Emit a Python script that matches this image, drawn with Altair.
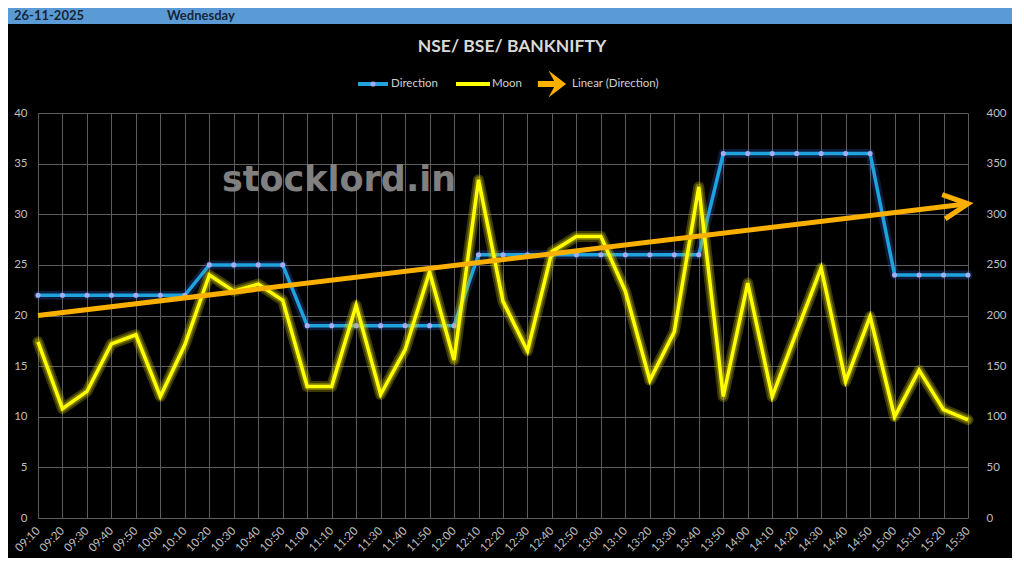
import altair as alt
import pandas as pd

TIMES = ["09:10", "09:20", "09:30", "09:40", "09:50", "10:00", "10:10", "10:20", "10:30", "10:40",
         "10:50", "11:00", "11:10", "11:20", "11:30", "11:40", "11:50", "12:00", "12:10", "12:20",
         "12:30", "12:40", "12:50", "13:00", "13:10", "13:20", "13:30", "13:40", "13:50", "14:00",
         "14:10", "14:20", "14:30", "14:40", "14:50", "15:00", "15:10", "15:20", "15:30"]
DIRECTION = [22, 22, 22, 22, 22, 22, 22, 25, 25, 25,
             25, 19, 19, 19, 19, 19, 19, 19, 26, 26,
             26, 26, 26, 26, 26, 26, 26, 26, 36, 36,
             36, 36, 36, 36, 36, 24, 24, 24, 24]
MOON = [174, 108, 125, 172, 181, 120, 171, 240, 224, 231,
        215, 130, 130, 210, 122, 166, 243, 156, 334, 214,
        165, 263, 278, 278, 224, 136, 184, 327, 120, 232,
        120, 184, 247, 135, 199, 100, 146, 107, 97]
LEFT_TICKS = [0, 5, 10, 15, 20, 25, 30, 35, 40]
RIGHT_TICKS = [0, 50, 100, 150, 200, 250, 300, 350, 400]

df = pd.DataFrame({"idx": list(range(len(TIMES))), "time": TIMES, "dir": DIRECTION, "moon": MOON})
label_expr = "[" + ",".join("'%s'" % t for t in TIMES) + "][datum.value]"

FONT = "Lato"
GRID = "#5c5c5c"
LABEL = "#bfbfbf"

x_enc = alt.X("idx:Q",
              scale=alt.Scale(domain=[0, len(TIMES) - 1], nice=False, zero=False),
              axis=alt.Axis(values=list(range(len(TIMES))), labelExpr=label_expr, labelAngle=315,
                            labelAlign="right", labelBaseline="middle", labelPadding=11,
                            labelColor=LABEL, labelFont=FONT, labelFontSize=11.5,
                            grid=True, gridColor=GRID, gridWidth=1, domain=False, ticks=False,
                            title=None, labelOverlap=False))

y_dir_axis = alt.Y("dir:Q", scale=alt.Scale(domain=[0, 40], nice=False),
                   axis=alt.Axis(values=LEFT_TICKS, grid=True, gridColor=GRID, gridWidth=1,
                                 domain=False, ticks=False, labelColor=LABEL, labelFont=FONT,
                                 labelFontSize=11.5, labelPadding=11, title=None))
y_dir = alt.Y("dir:Q", scale=alt.Scale(domain=[0, 40], nice=False), axis=None)
y_moon_axis = alt.Y("moon:Q", scale=alt.Scale(domain=[0, 400], nice=False),
                    axis=alt.Axis(orient="right", values=RIGHT_TICKS, grid=False, domain=False,
                                  ticks=False, labelColor=LABEL, labelFont=FONT, labelFontSize=11.5,
                                  labelPadding=18, labelAlign="left", title=None))
y_moon = alt.Y("moon:Q", scale=alt.Scale(domain=[0, 400], nice=False), axis=None)

base = alt.Chart(df)

BLUE = "#1fa3df"
YELLOW = "#ffff00"
ORANGE = "#fbb000"

blue_glow = base.mark_line(color="#3c7cff", strokeWidth=9, opacity=0.22, strokeJoin="round",
                           strokeCap="round").encode(x=x_enc, y=y_dir_axis)
blue = base.mark_line(color=BLUE, strokeWidth=3.5).encode(x=x_enc, y=y_dir)
blue_pts = base.mark_point(filled=True, color="#a5acf2", size=26, opacity=1).encode(x=x_enc, y=y_dir)

yellow_glow = base.mark_line(color="#c8c000", strokeWidth=11, opacity=0.3, strokeJoin="round",
                             strokeCap="round").encode(x=x_enc, y=y_moon_axis)
yellow_glow2 = base.mark_line(color="#e6e000", strokeWidth=7, opacity=0.35, strokeJoin="round",
                              strokeCap="round").encode(x=x_enc, y=y_moon)
yellow = base.mark_line(color=YELLOW, strokeWidth=3.5).encode(x=x_enc, y=y_moon)

trend = base.transform_regression("idx", "dir", method="linear").mark_line(
    color=ORANGE, strokeWidth=5).encode(x=x_enc, y=y_dir)
arrow = base.transform_regression("idx", "dir", method="linear").transform_filter(
    "datum.idx >= 37.5").mark_point(
    shape="M-1,-0.5L0,0L-1,0.5", filled=False, stroke=ORANGE, strokeWidth=5, size=2400,
    angle=353, opacity=1, strokeJoin="miter").encode(x=x_enc, y=y_dir)

deco = alt.Data(values=[{"k": 0}])

header = alt.Chart(deco).mark_rect(color="#5b9bd5").encode(
    x=alt.value(-30), x2=alt.value(974), y=alt.value(-105), y2=alt.value(-89))
hdr_date = alt.Chart(deco).mark_text(text="26-11-2025", align="left", baseline="middle", font=FONT,
                                     fontSize=13, fontWeight="bold", color="#17263a").encode(
    x=alt.value(-24), y=alt.value(-97))
hdr_day = alt.Chart(deco).mark_text(text="Wednesday", align="left", baseline="middle", font=FONT,
                                    fontSize=13, fontWeight="bold", color="#17263a").encode(
    x=alt.value(129), y=alt.value(-97))
title = alt.Chart(deco).mark_text(text="NSE/ BSE/ BANKNIFTY", align="center", baseline="middle",
                                  font=FONT, fontSize=17.5, fontWeight="bold", color="#d9d9d9").encode(
    x=alt.value(474), y=alt.value(-66))
watermark = alt.Chart(deco).mark_text(text="stocklord.in", align="center", baseline="middle",
                                      font="DejaVu Sans", fontSize=35, fontWeight="bold",
                                      color="#808080").encode(x=alt.value(301), y=alt.value(67))

LEG_Y = -29
leg_blue = alt.Chart(deco).mark_rule(color=BLUE, strokeWidth=4).encode(
    x=alt.value(320), x2=alt.value(350), y=alt.value(LEG_Y))
leg_blue_pt = alt.Chart(deco).mark_point(filled=True, color="#a5acf2", size=26, opacity=1).encode(
    x=alt.value(335), y=alt.value(LEG_Y))
leg_blue_txt = alt.Chart(deco).mark_text(text="Direction", align="left", baseline="middle", font=FONT,
                                         fontSize=11.5, color="#d0d0d0").encode(
    x=alt.value(353), y=alt.value(LEG_Y))
leg_yel = alt.Chart(deco).mark_rule(color=YELLOW, strokeWidth=4).encode(
    x=alt.value(418), x2=alt.value(452), y=alt.value(LEG_Y))
leg_yel_txt = alt.Chart(deco).mark_text(text="Moon", align="left", baseline="middle", font=FONT,
                                        fontSize=11.5, color="#d0d0d0").encode(
    x=alt.value(454), y=alt.value(LEG_Y))
leg_arrow = alt.Chart(deco).mark_point(
    shape="M-1,-0.22L0.15,-0.22L-0.25,-0.95L1,0L-0.25,0.95L0.15,0.22L-1,0.22Z",
    filled=True, color=ORANGE, size=800, opacity=1).encode(x=alt.value(514), y=alt.value(LEG_Y))
leg_arrow_txt = alt.Chart(deco).mark_text(text="Linear (Direction)", align="left", baseline="middle",
                                          font=FONT, fontSize=11.5, color="#d0d0d0").encode(
    x=alt.value(534), y=alt.value(LEG_Y))

chart = alt.layer(
    header, hdr_date, hdr_day, title, watermark,
    leg_blue, leg_blue_pt, leg_blue_txt, leg_yel, leg_yel_txt, leg_arrow, leg_arrow_txt,
    blue_glow, blue, blue_pts, yellow_glow, yellow_glow2, yellow, trend, arrow
).resolve_scale(y="independent").properties(
    width=930, height=405,
    padding={"left": 30, "top": 105, "right": 44, "bottom": 40},
    autosize=alt.AutoSizeParams(type="none"),
    background="#000000"
).configure_view(strokeWidth=0)

chart.save("out.html", embed_options={"renderer": "svg", "actions": False})
